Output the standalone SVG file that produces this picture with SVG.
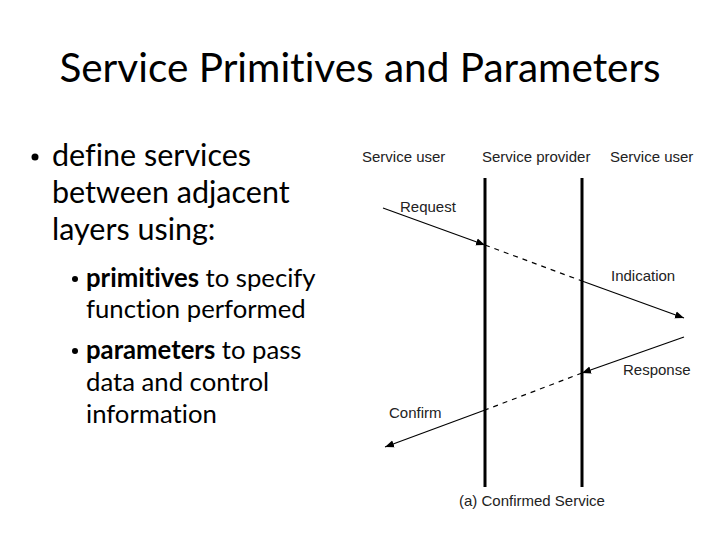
<svg xmlns="http://www.w3.org/2000/svg" width="720" height="540" viewBox="0 0 720 540">
<defs>
<style>
.title{font-family:Lato,"Open Sans","Liberation Sans",sans-serif;font-size:40.5px;fill:#000;font-variant-ligatures:none}
.body{font-family:Lato,"Open Sans","Liberation Sans",sans-serif;font-size:30.5px;fill:#000;font-variant-ligatures:none}
.sub{font-family:Lato,"Open Sans","Liberation Sans",sans-serif;font-size:25.7px;fill:#000;font-variant-ligatures:none}
.lbl{font-family:"Liberation Sans",Arial,sans-serif;font-size:15px;fill:#222}
.life{stroke:#000;stroke-width:3;fill:none}
.arr{stroke:#000;stroke-width:1.2;fill:none}
.dash{stroke:#000;stroke-width:1.2;fill:none;stroke-dasharray:5 5}
</style>
<marker id="ah" viewBox="0 0 10 10" refX="10" refY="5" markerWidth="9" markerHeight="9" markerUnits="userSpaceOnUse" orient="auto">
<path d="M0,1 L10,5 L0,9 Z" fill="#000"/>
</marker>
</defs>
<rect width="720" height="540" fill="#fff"/>
<text class="title" x="360" y="82" text-anchor="middle">Service Primitives and Parameters</text>
<g id="bullets">
<circle cx="35" cy="157" r="3.5" fill="#000"/>
<text class="body" x="52" y="166">define services</text>
<text class="body" x="52" y="203">between adjacent</text>
<text class="body" x="52" y="240">layers using:</text>
<circle cx="75" cy="279" r="3" fill="#000"/>
<text class="sub" x="86" y="287"><tspan font-weight="bold">primitives</tspan> to specify</text>
<text class="sub" x="86" y="318">function performed</text>
<circle cx="75" cy="351" r="3" fill="#000"/>
<text class="sub" x="86" y="359"><tspan font-weight="bold">parameters</tspan> to pass</text>
<text class="sub" x="86" y="391">data and control</text>
<text class="sub" x="86" y="423">information</text>
</g>
<g id="user-left"><text class="lbl" x="362" y="162">Service user</text></g>
<g id="provider"><text class="lbl" x="482" y="162">Service provider</text>
<line class="life" x1="485" y1="178" x2="485" y2="487"/>
<line class="life" x1="582" y1="178" x2="582" y2="487"/></g>
<g id="user-right"><text class="lbl" x="610" y="162">Service user</text></g>
<g id="connectors">
<line class="arr" x1="383" y1="208" x2="485" y2="245" marker-end="url(#ah)"/>
<line class="dash" x1="485" y1="245" x2="582" y2="281"/>
<line class="arr" x1="582" y1="281" x2="684" y2="318" marker-end="url(#ah)"/>
<line class="arr" x1="684" y1="337" x2="582" y2="373" marker-end="url(#ah)"/>
<line class="dash" x1="582" y1="373" x2="485" y2="410"/>
<line class="arr" x1="485" y1="410" x2="385" y2="447" marker-end="url(#ah)"/>
</g>
<g id="labels">
<text class="lbl" x="400" y="212">Request</text>
<text class="lbl" x="611" y="281">Indication</text>
<text class="lbl" x="623" y="375">Response</text>
<text class="lbl" x="389" y="418">Confirm</text>
<text class="lbl" x="459" y="506">(a) Confirmed Service</text>
</g>
</svg>
